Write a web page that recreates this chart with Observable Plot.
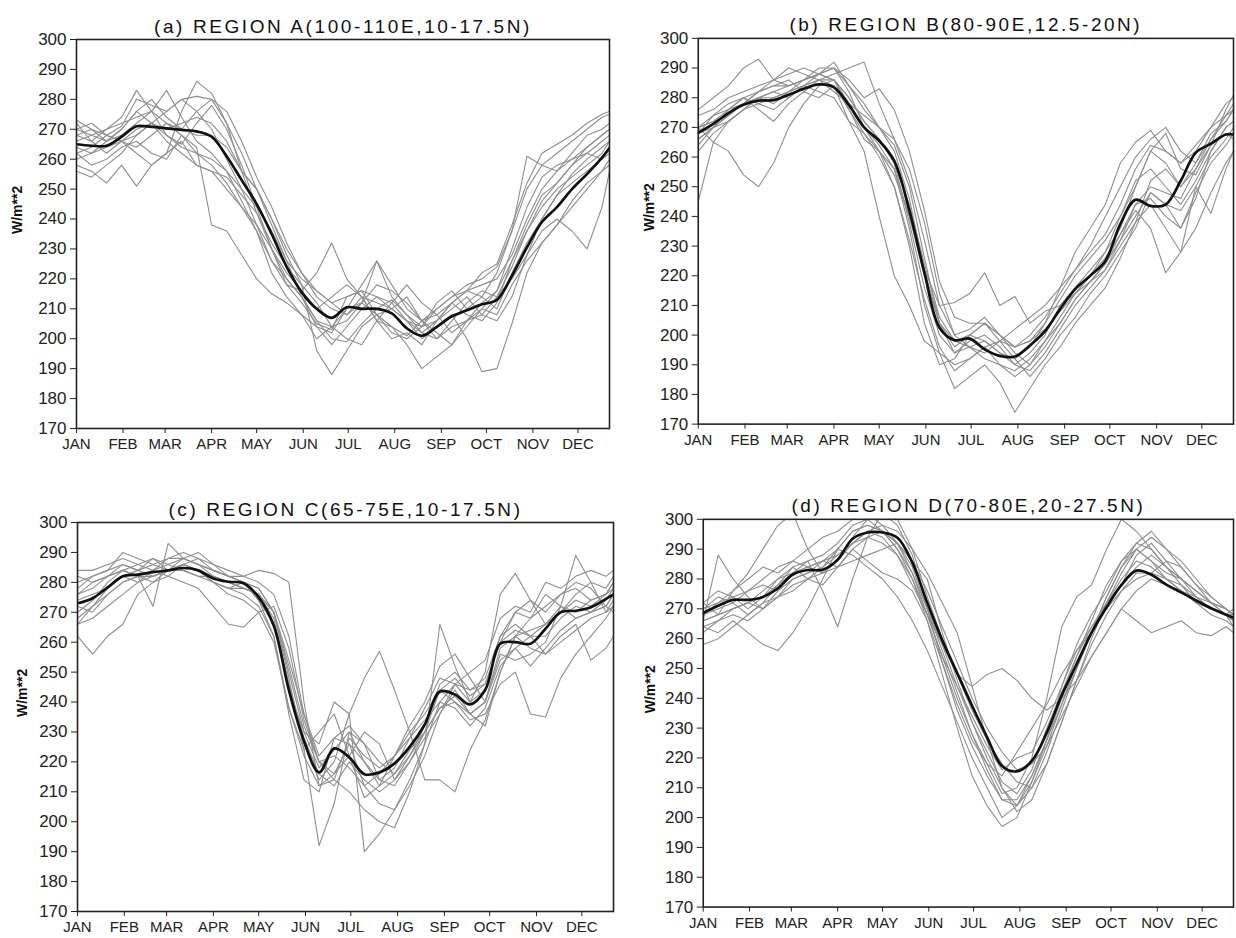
<!DOCTYPE html>
<html><head><meta charset="utf-8">
<script src="https://cdn.jsdelivr.net/npm/d3@7"></script>
<script src="https://cdn.jsdelivr.net/npm/@observablehq/plot@0.6"></script>
<style>
body{margin:0;background:#fff;}
#wrap{position:relative;width:1236px;height:938px;overflow:hidden;background:#fff;}
.panel{position:absolute;}
</style></head><body><div id="wrap"></div>
<script>
// day of year for each sample (10-day steps, last at right edge)
const days = [0,10,20,30,40,50,60,70,80,90,100,110,120,130,140,150,160,170,180,190,200,210,220,230,240,250,260,270,280,290,300,310,320,330,340,350,355];
const monthTicks = [0,31,59,90,120,151,181,212,243,273,304,334];
const monthLabels = ["JAN","FEB","MAR","APR","MAY","JUN","JUL","AUG","SEP","OCT","NOV","DEC"];
const yTicks = [170,180,190,200,210,220,230,240,250,260,270,280,290,300];
const titles = ["(a) REGION A(100-110E,10-17.5N)","(b) REGION B(80-90E,12.5-20N)","(c) REGION C(65-75E,10-17.5N)","(d) REGION D(70-80E,20-27.5N)"];
const yLabel = "W/m**2";

const meanA = [265,264.5,264.5,267.5,271,270.8,270.3,269.8,269.3,267.5,261,253,245,235,224,215.5,210,207,210.5,210,210,208.5,203.5,201,204,207.5,209.5,211.5,213,221,230.5,239,244,250,255,260.5,263.7];
const greyA = [
 [272,266,270,274,283,276,268,265,272,278,270,258,244,230,218,212,205,203,214,216,208,204,201,206,210,214,216,222,225,238,252,262,265,268,272,275,276],
 [258,256,252,258,251,258,262,276,286,282,272,256,242,230,220,214,206,200,199,205,210,213,208,202,206,210,214,208,206,214,228,240,248,255,260,264,266],
 [262,258,260,264,266,262,260,268,264,238,236,228,220,215,212,208,204,202,210,218,226,214,208,204,206,212,216,214,210,222,232,240,248,252,256,260,262],
 [268,270,266,270,276,272,270,272,274,272,266,256,250,240,228,218,196,188,196,204,208,210,214,206,208,212,216,218,220,228,240,250,256,260,262,266,268],
 [264,262,266,268,272,276,272,270,268,268,264,256,250,240,230,222,216,212,208,214,212,210,206,200,204,208,200,189,190,205,222,232,238,244,250,256,260],
 [270,272,268,266,268,272,276,280,276,270,260,250,238,226,218,216,222,232,220,214,206,204,198,190,194,198,206,212,216,226,236,246,252,258,264,268,270],
 [256,254,258,262,268,272,266,262,258,256,250,244,236,226,220,214,206,204,206,212,226,218,210,206,200,204,206,208,214,220,228,236,240,236,230,244,256],
 [266,268,270,272,274,276,283,274,266,262,256,246,236,222,214,208,200,204,210,212,208,202,200,204,212,216,210,214,222,236,261,258,256,262,268,270,272],
 [273,270,268,271,280,278,276,280,281,280,272,262,250,238,226,220,216,212,214,216,214,210,206,204,210,214,218,220,224,236,250,258,262,266,270,274,275],
 [260,262,264,266,262,258,262,266,258,256,254,248,242,232,224,218,212,204,200,198,206,212,218,212,208,202,206,210,208,218,226,232,238,246,252,256,258],
 [268,266,262,266,270,272,268,264,262,260,256,250,244,236,226,214,204,198,204,210,214,212,206,202,200,206,212,216,214,224,236,244,250,254,258,262,266],
 [270,268,266,270,276,280,274,270,276,280,276,266,254,244,232,222,214,210,208,212,218,216,212,206,202,198,204,210,216,230,244,254,258,260,264,268,270],
 [262,264,268,266,264,268,272,268,262,258,252,244,238,230,222,216,210,214,218,214,206,200,202,198,206,212,208,206,212,226,238,248,252,258,262,260,264]
];

const meanB = [268.2,271.2,274.8,277.6,279,279.2,281,283,284.5,283.5,277.5,270,265.5,258.7,242,221,202.5,198.3,198.8,195.2,193,192.8,196.5,201.3,208.8,215.5,220,225,237.5,245.6,243.5,244,252,261.5,264.5,267.6,267.6];
const greyB = [
 [245,265,272,276,280,282,284,286,288,290,282,270,262,250,232,212,196,188,192,196,190,186,190,198,206,214,220,226,234,244,250,248,246,256,264,268,266],
 [270,265,262,254,250,258,270,278,284,286,280,272,266,258,238,216,200,194,196,198,194,190,194,200,210,216,222,228,240,252,256,250,244,252,262,270,272],
 [276,280,284,290,293,286,284,286,290,290,284,276,270,264,250,226,204,196,200,204,200,196,198,204,212,220,226,232,240,250,262,258,250,258,266,272,276],
 [270,272,276,280,278,276,280,284,286,288,290,292,278,266,252,232,210,200,202,206,200,194,190,196,204,212,218,222,232,244,246,240,236,248,258,264,268],
 [268,274,278,280,276,272,278,282,286,284,272,262,240,220,210,198,194,190,192,196,198,196,200,206,214,222,228,234,244,256,264,262,258,264,270,274,276],
 [266,270,274,278,280,282,280,284,288,290,286,280,283,276,262,242,218,206,204,204,200,196,198,202,208,214,218,224,232,240,248,244,236,246,262,270,272],
 [270,274,276,278,280,280,282,286,288,286,276,266,262,256,236,210,194,182,186,190,184,174,182,190,196,204,210,216,226,238,244,236,228,236,248,258,262],
 [268,270,272,276,278,280,282,284,282,280,272,268,262,254,240,222,210,211,214,221,210,213,204,208,210,214,220,228,236,250,262,268,256,254,264,276,281],
 [266,270,274,278,282,284,284,286,288,286,278,270,264,256,240,220,204,198,196,192,190,188,192,198,204,212,218,224,234,242,236,221,228,250,241,256,262],
 [262,268,272,276,280,278,282,284,286,286,280,272,266,258,244,224,206,198,200,198,194,192,196,204,216,228,236,244,258,265,269,262,258,262,270,278,280],
 [274,276,280,282,284,286,288,290,288,292,284,278,270,262,246,222,204,194,198,200,196,190,188,194,202,210,216,222,230,238,252,256,250,256,266,274,278],
 [264,270,276,280,282,284,286,282,280,284,276,268,260,250,230,204,190,192,200,204,198,192,186,192,200,206,214,220,228,236,248,244,242,250,260,266,270],
 [270,272,274,278,282,286,290,288,286,282,278,274,270,266,256,238,214,200,196,194,198,202,206,210,216,222,230,240,250,260,266,270,262,258,268,272,276]
];

const meanC = [273,274.7,278.3,282,282.6,283.4,284,284.8,284,281.3,280.2,279.7,275,265.5,244,227,216.5,224.5,221.5,215.9,216.5,219.5,225,232.5,243.5,242.5,239.2,244,259.5,260,259.5,264.5,270,270.5,271.7,274.5,276];
const greyC = [
 [262,256,262,266,276,280,282,286,284,280,278,276,272,262,238,222,212,216,226,220,214,218,228,238,248,246,240,244,262,270,268,272,276,280,278,272,276],
 [278,282,284,290,288,286,284,288,286,284,282,280,278,270,250,230,218,224,230,220,212,216,224,230,238,242,236,240,258,262,264,266,272,270,274,276,280],
 [270,274,280,284,282,272,293,288,286,282,280,278,276,266,246,228,216,212,220,214,210,214,222,232,246,250,244,248,262,266,262,262,268,272,270,274,278],
 [268,272,276,280,282,284,282,280,278,272,266,265,270,272,258,234,220,222,218,212,216,222,230,236,244,240,236,240,256,254,256,260,272,289,280,270,274],
 [280,282,284,286,284,286,288,288,286,284,282,282,284,283,280,240,212,214,228,222,218,222,228,234,240,238,232,238,252,258,252,258,264,268,270,272,270],
 [274,276,278,282,284,282,284,286,284,280,278,278,276,270,248,224,192,206,230,226,214,212,220,230,244,248,242,246,260,264,262,266,270,274,272,276,278],
 [272,270,276,280,282,282,284,286,284,280,278,280,274,266,244,230,226,240,236,190,196,204,214,226,240,246,244,246,260,270,274,270,276,278,274,276,280],
 [266,268,272,276,280,284,286,284,282,282,280,278,276,268,246,226,214,220,236,248,257,244,230,214,214,210,224,234,250,262,258,256,262,266,254,258,262],
 [276,280,282,284,286,288,286,288,290,286,282,280,278,270,252,232,220,214,210,204,200,198,210,226,266,252,240,250,276,283,274,266,270,276,280,278,282],
 [282,280,282,284,282,280,284,286,284,282,280,278,276,270,254,236,222,228,232,226,220,216,222,230,238,240,234,236,246,250,236,235,248,256,262,268,272],
 [284,284,286,288,286,284,288,290,288,286,284,282,280,276,262,236,220,216,222,230,226,214,220,228,236,246,250,254,268,272,270,280,278,282,284,282,284],
 [266,272,278,282,280,282,284,286,288,284,282,280,274,262,236,214,210,228,226,212,206,204,212,222,236,244,236,232,250,262,268,276,272,268,270,272,276],
 [276,278,282,286,284,288,284,284,282,280,276,274,270,260,238,224,230,236,222,208,212,222,232,240,252,256,248,240,254,258,262,256,260,264,268,270,272]
];

const meanD = [268.6,271,273,273,274,276.9,281.5,283,283.1,286.5,293.5,295.6,295.6,293.8,285.5,272,259.5,248.5,237.5,227,217.3,215.5,219,228.5,241,251.5,262,270.5,278,282.8,281.4,278.1,275.5,272.8,270.2,268,267];
const greyD = [
 [266,288,280,274,270,276,282,286,288,292,298,300,296,292,286,280,262,246,232,220,210,204,212,224,238,252,262,272,280,286,284,280,276,274,270,268,266],
 [272,268,276,282,290,298,302,290,282,286,294,300,302,298,288,270,252,236,224,214,206,206,214,226,244,258,268,276,286,290,286,280,276,272,270,268,268],
 [264,262,266,262,258,256,262,270,280,290,296,298,296,290,282,268,254,244,234,224,216,220,222,232,244,256,262,270,278,288,292,286,280,274,270,268,266],
 [270,274,272,268,272,278,284,286,276,264,280,294,302,300,290,274,260,248,236,226,218,212,210,218,232,246,258,268,276,282,282,280,278,274,272,270,268],
 [268,270,272,276,280,284,286,284,286,290,288,284,280,274,266,256,244,232,220,210,200,204,214,226,238,250,262,274,284,290,286,282,280,276,272,270,268],
 [266,268,270,272,276,280,282,284,286,288,292,296,298,296,290,282,272,262,244,226,210,202,206,218,232,246,260,272,282,290,294,290,284,278,274,270,268],
 [262,266,270,272,270,274,278,280,282,286,292,296,294,288,280,266,248,230,214,204,197,200,212,226,240,254,266,278,286,292,290,284,278,272,268,266,264],
 [268,272,274,276,278,276,280,282,284,288,292,294,292,288,278,268,258,248,244,248,250,246,240,236,240,246,254,262,270,276,280,278,276,272,270,268,266],
 [258,260,264,268,272,274,276,280,284,290,296,298,296,290,280,268,254,240,228,218,208,210,220,240,264,274,278,290,300,296,290,284,280,276,272,268,264],
 [266,268,270,272,274,278,282,284,282,284,290,294,296,292,286,276,264,252,240,230,222,216,218,224,234,244,254,262,270,266,262,264,266,262,261,264,262],
 [270,272,276,280,284,282,286,290,294,296,300,302,298,292,282,270,256,242,228,216,206,204,210,222,236,250,262,274,284,292,296,290,286,280,274,270,268],
 [264,266,268,266,270,274,280,282,286,284,286,288,290,292,284,270,258,244,232,222,212,208,216,230,242,254,264,272,278,284,288,284,280,276,272,270,268],
 [272,276,274,270,274,280,284,280,278,284,290,286,282,280,276,266,252,238,226,218,214,222,230,238,248,256,264,270,276,280,282,286,284,278,272,268,270]
];

const layout = [
  {left:0,   top:0,   width:620, height:470, ml:76, mr:11, mt:39, mb:42, ldx:-59},
  {left:618, top:0,   width:620, height:470, ml:80, mr:3,  mt:38, mb:45, ldx:-49},
  {left:0,   top:470, width:620, height:468, ml:77, mr:7,  mt:52, mb:27, ldx:-55},
  {left:618, top:470, width:620, height:468, ml:85, mr:3,  mt:49, mb:30, ldx:-53}
];
const means = [meanA, meanB, meanC, meanD];
const greys = [greyA, greyB, greyC, greyD];

const wrap = document.getElementById("wrap");
for (let p = 0; p < 4; p++) {
  const L = layout[p];
  const greyRows = greys[p].flatMap((s, k) => s.map((v, i) => ({day: days[i], v, yr: k})));
  const meanRows = means[p].map((v, i) => ({day: days[i], v}));
  const chart = Plot.plot({
    width: L.width, height: L.height,
    marginLeft: L.ml, marginRight: L.mr, marginTop: L.mt, marginBottom: L.mb,
    x: {domain: [0, 355]},
    y: {domain: [170, 300]},
    style: {fontFamily: "'Liberation Sans', Arial, sans-serif", color: "#222", background: "transparent"},
    marks: [
      Plot.line(greyRows, {x: "day", y: "v", z: "yr", stroke: "#8e8e8e", strokeWidth: 1.1, clip: true}),
      Plot.line(meanRows, {x: "day", y: "v", stroke: "#111", strokeWidth: 2.7, curve: "catmull-rom", clip: true}),
      Plot.frame({stroke: "#222", strokeWidth: 1.6}),
      Plot.axisX({ticks: monthTicks, tickFormat: d => monthLabels[monthTicks.indexOf(d)], tickSize: 5, tickPadding: 5, fontSize: 15, label: null}),
      Plot.axisY({ticks: yTicks, tickFormat: d => String(d), tickSize: 6, tickPadding: 4, fontSize: 17, label: null}),
      Plot.text([titles[p]], {text: d => d, frameAnchor: "top", dy: -7, lineAnchor: "bottom", fontSize: 19, fill: "#111"}),
      Plot.text([yLabel], {text: d => d, frameAnchor: "left", dx: L.ldx, rotate: -90, fontSize: 14, fontWeight: "bold", fill: "#111"})
    ]
  });
  chart.querySelectorAll("text").forEach(t => {
    if (t.textContent === titles[p]) t.style.letterSpacing = "2.6px";
  });
  const div = document.createElement("div");
  div.className = "panel";
  div.style.left = L.left + "px";
  div.style.top = L.top + "px";
  div.appendChild(chart);
  wrap.appendChild(div);
}
</script>
</body></html>
